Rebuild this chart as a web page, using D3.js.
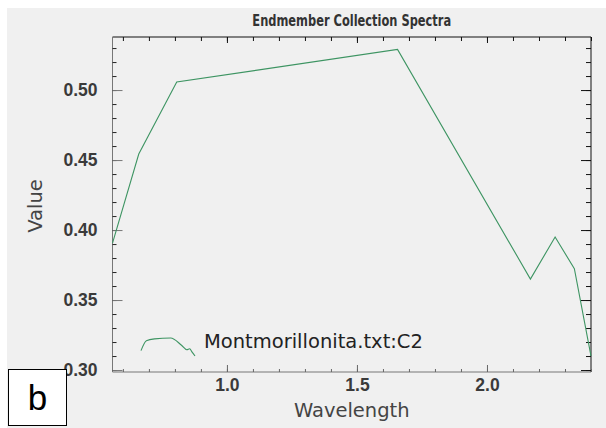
<!DOCTYPE html>
<html>
<head>
<meta charset="utf-8">
<script src="https://cdn.jsdelivr.net/npm/d3@7"></script>
<style>
  html, body { margin: 0; padding: 0; background: #fff; }
  svg { display: block; font-family: "DejaVu Sans", sans-serif; }
</style>
</head>
<body>
<div id="chart"></div>
<script>
// spectrum (wavelength in µm)
const wavelength = [0.56, 0.661, 0.807, 1.656, 2.167, 2.262, 2.336, 2.40];
const value = [0.3907, 0.4543, 0.5057, 0.529, 0.365, 0.395, 0.3724, 0.31];

const xMajor = [1.0, 1.5, 2.0];
const xMinor = d3.range(6, 25).map((d) => d / 10);
const yMajor = [0.30, 0.35, 0.40, 0.45, 0.50];
const yMinor = d3.range(30, 54).map((d) => d / 100);

// little spectrum shape used as the legend symbol
const iconX = [0, 0.1, 0.25, 0.55, 0.75, 0.85, 0.9, 0.95, 1.0];
const iconY = [0.3, 0.85, 0.95, 1.0, 0.6, 0.35, 0.4, 0.2, 0.0];

const seriesName = "Montmorillonita.txt:C2";
const panelTag = "b";

const W = 606, H = 428;
const margin = { top: 37, right: 15, bottom: 56, left: 112.5 };
const width = W - margin.left - margin.right;
const height = H - margin.top - margin.bottom;

const svg = d3
  .select("#chart")
  .append("svg")
  .attr("width", W)
  .attr("height", H);

svg.append("rect")
  .attr("x", 7).attr("y", 8)
  .attr("width", W - 7).attr("height", H - 8)
  .attr("fill", "#f0f0f0");

const g = svg.append("g").attr("transform", `translate(${margin.left},${margin.top})`);

const x = d3.scaleLinear().domain([0.56, 2.40]).range([0, width]);
const y = d3.scaleLinear().domain([0.2986, 0.5379]).range([height, 0]);

// frame
g.append("line").attr("x1", 0).attr("x2", width).attr("y1", 0).attr("y2", 0).attr("stroke", "#111");
g.append("line").attr("x1", width).attr("x2", width).attr("y1", 0).attr("y2", height).attr("stroke", "#111");
g.append("line").attr("x1", 0).attr("x2", 0).attr("y1", 0).attr("y2", height).attr("stroke", "#777");
g.append("line").attr("x1", 0).attr("x2", width).attr("y1", height).attr("y2", height).attr("stroke", "#777");

function axisStyle(sel, color) {
  sel.select(".domain").remove();
  sel.selectAll(".tick line").attr("stroke", color);
}

// minor ticks (all four sides, inward)
g.append("g").call(d3.axisLeft(y).tickValues(yMinor).tickSize(-4).tickFormat(""))
  .call((s) => axisStyle(s, "#222"));
g.append("g").attr("transform", `translate(${width},0)`)
  .call(d3.axisRight(y).tickValues(yMinor).tickSize(-5).tickFormat(""))
  .call((s) => axisStyle(s, "#111"));
g.append("g").attr("transform", `translate(0,${height})`)
  .call(d3.axisBottom(x).tickValues(xMinor).tickSize(-3).tickFormat(""))
  .call((s) => axisStyle(s, "#666"));
g.append("g")
  .call(d3.axisTop(x).tickValues(xMinor).tickSize(-4).tickFormat(""))
  .call((s) => axisStyle(s, "#111"));

// major ticks with labels
const yAx = g.append("g")
  .call(d3.axisLeft(y).tickValues(yMajor).tickSize(-10).tickPadding(15).tickFormat(d3.format(".2f")))
  .call((s) => axisStyle(s, "#777"));
g.append("g").attr("transform", `translate(${width},0)`)
  .call(d3.axisRight(y).tickValues(yMajor).tickSize(-10).tickFormat(""))
  .call((s) => axisStyle(s, "#111"));
const xAx = g.append("g").attr("transform", `translate(0,${height})`)
  .call(d3.axisBottom(x).tickValues(xMajor).tickSize(-7).tickPadding(7).tickFormat(d3.format(".1f")))
  .call((s) => axisStyle(s, "#666"));
g.append("g")
  .call(d3.axisTop(x).tickValues(xMajor).tickSize(-6).tickFormat(""))
  .call((s) => axisStyle(s, "#111"));

[yAx, xAx].forEach((a) =>
  a.selectAll("text")
    .attr("fill", "#3a3a3a")
    .style("font-size", "17.5px")
    .style("font-weight", "bold")
);

// spectrum line
const pts = wavelength.map((w, i) => [w, value[i]]);
g.append("path")
  .datum(pts)
  .attr("fill", "none")
  .attr("stroke", "#3d9462")
  .attr("stroke-width", 1.1)
  .attr("d", d3.line().x((d) => x(d[0])).y((d) => y(d[1])));

// title (narrow face) and axis labels
svg.append("text")
  .attr("transform", `translate(${margin.left + width / 2},26) scale(0.82,1)`)
  .attr("text-anchor", "middle")
  .attr("fill", "#333")
  .style("font-family", "'DejaVu Sans Condensed', 'DejaVu Sans', sans-serif")
  .style("font-size", "15.5px")
  .style("font-weight", "bold")
  .text("Endmember Collection Spectra");

svg.append("text")
  .attr("x", margin.left + width / 2).attr("y", 417)
  .attr("text-anchor", "middle")
  .attr("fill", "#444")
  .style("font-size", "19.5px")
  .text("Wavelength");

svg.append("text")
  .attr("transform", "translate(42,206) rotate(-90)")
  .attr("text-anchor", "middle")
  .attr("fill", "#444")
  .style("font-size", "19.5px")
  .text("Value");

// legend
const ix = d3.scaleLinear().domain([0, 1]).range([141, 195]);
const iy = d3.scaleLinear().domain([0, 1]).range([356, 338]);
svg.append("path")
  .datum(iconX.map((d, i) => [d, iconY[i]]))
  .attr("fill", "none")
  .attr("stroke", "#3d9462")
  .attr("stroke-width", 1.1)
  .attr("d", d3.line().x((d) => ix(d[0])).y((d) => iy(d[1])).curve(d3.curveMonotoneX));

svg.append("text")
  .attr("x", 204).attr("y", 348)
  .attr("fill", "#222")
  .style("font-size", "19.5px")
  .text(seriesName);

// panel tag
svg.append("rect")
  .attr("x", 8.5).attr("y", 369.5)
  .attr("width", 58).attr("height", 56)
  .attr("fill", "#fff")
  .attr("stroke", "#000");
svg.append("text")
  .attr("x", 37.5).attr("y", 410)
  .attr("text-anchor", "middle")
  .attr("fill", "#000")
  .style("font-family", "'Liberation Sans', Arial, sans-serif")
  .style("font-size", "35px")
  .text(panelTag);
</script>
</body>
</html>
